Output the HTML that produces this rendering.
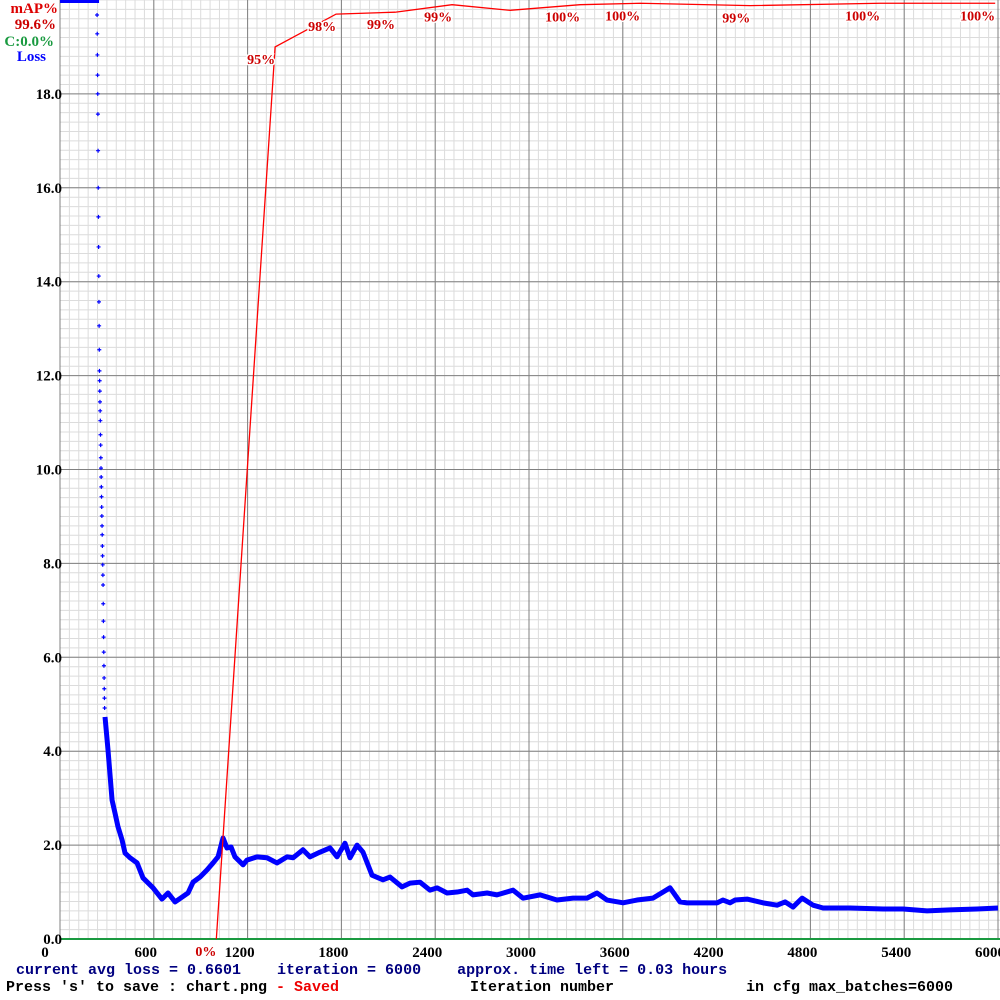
<!DOCTYPE html>
<html><head><meta charset="utf-8"><style>
html,body{margin:0;padding:0;background:#fff;width:1000px;height:1000px;overflow:hidden}
svg text{font-family:"Liberation Serif",serif;font-weight:bold}
.mono{font-family:"Liberation Mono",monospace !important;white-space:pre}
</style></head><body>
<svg id="chart" width="1000" height="1000" viewBox="0 0 1000 1000" xmlns="http://www.w3.org/2000/svg" xml:space="preserve">
<rect width="1000" height="1000" fill="#fff"/>
<g id="grid"></g>
<g id="series"></g>
<g id="labels"></g>
<text x="58" y="13" fill="#d00" font-size="15" text-anchor="end">mAP%</text>
<text x="56" y="29" fill="#c00" font-size="15" text-anchor="end">99.6%</text>
<text x="54" y="46" fill="#1a9a40" font-size="15" text-anchor="end">C:0.0%</text>
<text x="46" y="61" fill="#00f" font-size="15" text-anchor="end">Loss</text>
<text class="mono" x="16" y="974" fill="#000080" font-size="15" font-weight="bold">current avg loss = 0.6601    iteration = 6000    approx. time left = 0.03 hours</text>
<text class="mono" x="6" y="991" fill="#000" font-size="15">Press 's' to save : chart.png <tspan fill="#e00">- Saved</tspan></text>
<text class="mono" x="470" y="991" fill="#000" font-size="15">Iteration number</text>
<text class="mono" x="746" y="991" fill="#000" font-size="15">in cfg max_batches=6000</text>
</svg>
<script>
const xTicks=[0,600,1200,1800,2400,3000,3600,4200,4800,5400,6000];
const yTicks=[0,2,4,6,8,10,12,14,16,18];
const earlyLoss=[19.68,19.28,18.83,18.40,18.0,17.57,16.79,16.00,15.38,14.74,14.12,13.57,13.06,12.55,12.10,11.89,11.67,11.44,11.25,11.04,10.74,10.52,10.25,10.03,9.84,9.63,9.42,9.20,9.01,8.80,8.61,8.37,8.16,7.97,7.75,7.54,7.14,6.77,6.43,6.11,5.82,5.56,5.33,5.13,4.92];
const earlyStart=237, earlyStep=1.1;
const lossIter=[288,307,333,352,371,397,416,448,493,531,595,652,691,736,780,819,851,896,940,979,1011,1043,1068,1094,1119,1171,1196,1260,1324,1388,1452,1491,1554,1599,1663,1727,1772,1823,1855,1900,1938,1996,2066,2111,2188,2239,2303,2367,2412,2476,2540,2604,2642,2732,2795,2898,2962,3071,3179,3282,3371,3435,3499,3602,3691,3793,3902,3966,4011,4094,4203,4241,4286,4318,4395,4497,4587,4638,4689,4747,4817,4881,5054,5265,5393,5546,5693,5866,6000];
const lossVal=[4.73,4.03,2.96,2.68,2.39,2.11,1.83,1.73,1.62,1.30,1.09,0.85,0.98,0.79,0.89,0.98,1.21,1.32,1.47,1.62,1.75,2.15,1.94,1.96,1.75,1.58,1.68,1.75,1.73,1.62,1.75,1.73,1.90,1.75,1.85,1.94,1.75,2.04,1.73,2.00,1.85,1.36,1.26,1.32,1.11,1.19,1.21,1.04,1.09,0.98,1.00,1.04,0.94,0.98,0.94,1.04,0.87,0.94,0.83,0.87,0.87,0.98,0.83,0.77,0.83,0.87,1.09,0.79,0.77,0.77,0.77,0.83,0.77,0.83,0.85,0.77,0.72,0.79,0.68,0.87,0.72,0.66,0.66,0.64,0.64,0.60,0.62,0.64,0.66];
const mapIter=[1000,1376,1766,2143,2508,2879,3327,3711,4415,5246,5982];
const mapVal=[0,95,98.5,98.7,99.5,98.9,99.5,99.65,99.4,99.65,99.65];
const mapLabels=['0%','95%','98%','99%','99%','','100%','100%','99%','100%','100%'];

const NS='http://www.w3.org/2000/svg';
const X0=60,X1=998,Y0=939,YT=0;
const xs=i=>X0+(i/6000)*(X1-X0);
const ys=l=>Y0-(l/20)*(Y0-YT);
const ym=v=>Y0-(v/100)*(Y0-YT);
function mk(tag,parent,attrs){const e=document.createElementNS(NS,tag);for(const k in attrs)e.setAttribute(k,attrs[k]);parent.appendChild(e);return e;}
const grid=document.getElementById('grid'),series=document.getElementById('series'),labels=document.getElementById('labels');
for(let k=0;k<=100;k++){const x=xs(k*60);const e=mk('line',grid,{x1:x,x2:x,y1:0,y2:Y0,stroke:'#dcdcdc','stroke-width':1});

}
for(let k=0;k<=100;k++){const y=ys(k*0.2);const e=mk('line',grid,{x1:X0,x2:1000,y1:y,y2:y,stroke:'#dcdcdc','stroke-width':1});

}
xTicks.forEach(t=>{const x=xs(t);const e=mk('line',grid,{x1:x,x2:x,y1:0,y2:Y0,stroke:'#808080','stroke-width':1});


const tx=mk('text',labels,{x:t===0?45:Math.min(x-8,990),y:957,'font-size':15,'text-anchor':'middle',fill:'#000'});tx.textContent=String(t);

});
yTicks.forEach(t=>{const y=ys(t);const e=mk('line',grid,{x1:X0,x2:1000,y1:y,y2:y,stroke:'#808080','stroke-width':1});


const tx=mk('text',labels,{x:62,y:y+5,'font-size':15,'text-anchor':'end',fill:'#000'});tx.textContent=t.toFixed(1);

});
const ax=mk('line',grid,{x1:X0,x2:1000,y1:Y0,y2:Y0,stroke:'#1a9a40','stroke-width':2});


const bar=mk('rect',series,{x:X0,y:0,width:xs(earlyStart)-X0+2,height:3,fill:'#00f'});


earlyLoss.forEach((l,i)=>{const x=xs(earlyStart+i*earlyStep),y=ys(l);
const p=mk('path',series,{d:`M${x-2},${y}h4M${x},${y-2}v4`,stroke:'#00f','stroke-width':1.2});

});
const lp=mk('polyline',series,{points:lossIter.map((t,i)=>xs(t)+','+ys(lossVal[i])).join(' '),fill:'none',stroke:'#0000ff','stroke-width':5,'stroke-linejoin':'round'});


const mp=mk('polyline',series,{points:mapIter.map((t,i)=>xs(t)+','+ym(mapVal[i])).join(' '),fill:'none',stroke:'#ff0000','stroke-width':1.3});


mapIter.forEach((t,i)=>{if(!mapLabels[i])return;const x=xs(t),y=ym(mapVal[i]);
const bg=mk('text',labels,{x:Math.min(x,997),y:Math.min(y+17,957),'font-size':14,'text-anchor':'end',fill:'#c00',stroke:'#fff','stroke-width':3,'paint-order':'stroke'});bg.textContent=mapLabels[i];

});
</script>
</body></html>
